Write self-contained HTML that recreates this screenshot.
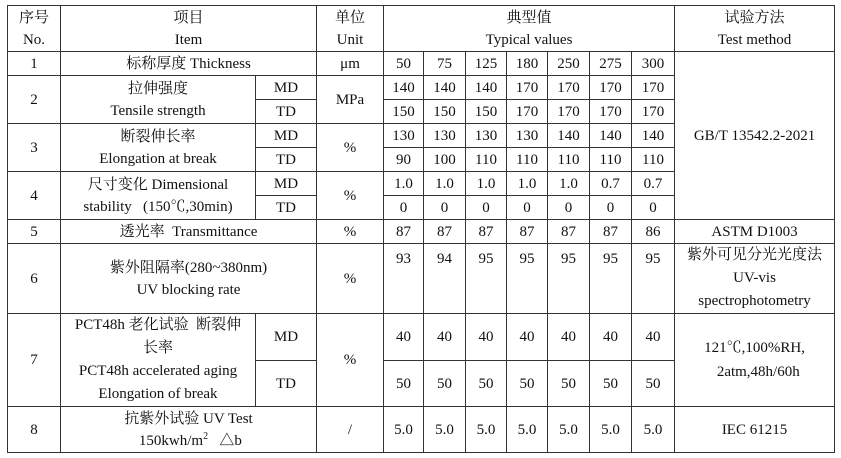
<!DOCTYPE html>
<html><head><meta charset="utf-8"><style>
html,body{margin:0;padding:0;background:#fff;width:841px;height:458px;overflow:hidden}
table{position:absolute;left:7px;top:5px;border-collapse:collapse;table-layout:fixed;width:828px;
font-family:"Liberation Serif","Noto Serif CJK SC",serif;font-size:15px;color:#111}
td{border:1px solid #333;padding:0;text-align:center;vertical-align:middle;line-height:22px;overflow:hidden;white-space:nowrap}
</style></head><body>
<table>
<colgroup><col style="width:53px"><col style="width:195px"><col style="width:61px"><col style="width:67px">
<col style="width:40px"><col style="width:42px"><col style="width:41px"><col style="width:41px"><col style="width:42px"><col style="width:42px"><col style="width:43px"><col style="width:160px"></colgroup>
<tr style="height:46px"><td>序号<br>No.</td><td colspan="2">项目<br>Item</td><td>单位<br>Unit</td><td colspan="7">典型值<br>Typical values</td><td>试验方法<br>Test method</td></tr>
<tr style="height:24px"><td>1</td><td colspan="2">标称厚度 Thickness</td><td>μm</td><td>50</td><td>75</td><td>125</td><td>180</td><td>250</td><td>275</td><td>300</td><td rowspan="7">GB/T 13542.2-2021</td></tr>
<tr style="height:24px"><td rowspan="2">2</td><td rowspan="2">拉伸强度<br>Tensile strength</td><td>MD</td><td rowspan="2">MPa</td><td>140</td><td>140</td><td>140</td><td>170</td><td>170</td><td>170</td><td>170</td></tr>
<tr style="height:24px"><td>TD</td><td>150</td><td>150</td><td>150</td><td>170</td><td>170</td><td>170</td><td>170</td></tr>
<tr style="height:24px"><td rowspan="2">3</td><td rowspan="2">断裂伸长率<br>Elongation at break</td><td>MD</td><td rowspan="2">%</td><td>130</td><td>130</td><td>130</td><td>130</td><td>140</td><td>140</td><td>140</td></tr>
<tr style="height:24px"><td>TD</td><td>90</td><td>100</td><td>110</td><td>110</td><td>110</td><td>110</td><td>110</td></tr>
<tr style="height:24px"><td rowspan="2">4</td><td rowspan="2">尺寸变化 Dimensional<br>stability &nbsp;&nbsp;(150℃,30min)</td><td>MD</td><td rowspan="2">%</td><td>1.0</td><td>1.0</td><td>1.0</td><td>1.0</td><td>1.0</td><td>0.7</td><td>0.7</td></tr>
<tr style="height:24px"><td>TD</td><td>0</td><td>0</td><td>0</td><td>0</td><td>0</td><td>0</td><td>0</td></tr>
<tr style="height:24px"><td>5</td><td colspan="2">透光率 &nbsp;Transmittance</td><td>%</td><td>87</td><td>87</td><td>87</td><td>87</td><td>87</td><td>87</td><td>86</td><td>ASTM D1003</td></tr>
<tr style="height:69px"><td>6</td><td colspan="2">紫外阻隔率(280~380nm)<br>UV blocking rate</td><td>%</td><td style="vertical-align:top;padding-top:4px">93</td><td style="vertical-align:top;padding-top:4px">94</td><td style="vertical-align:top;padding-top:4px">95</td><td style="vertical-align:top;padding-top:4px">95</td><td style="vertical-align:top;padding-top:4px">95</td><td style="vertical-align:top;padding-top:4px">95</td><td style="vertical-align:top;padding-top:4px">95</td><td style="line-height:23px">紫外可见分光光度法<br>UV-vis<br>spectrophotometry</td></tr>
<tr style="height:47px"><td rowspan="2">7</td><td rowspan="2" style="line-height:23px">PCT48h 老化试验 &nbsp;断裂伸<br>长率<br>PCT48h accelerated aging<br>Elongation of break</td><td>MD</td><td rowspan="2">%</td><td>40</td><td>40</td><td>40</td><td>40</td><td>40</td><td>40</td><td>40</td><td rowspan="2" style="line-height:24px">121℃,100%RH,<br>&nbsp;&nbsp;2atm,48h/60h</td></tr>
<tr style="height:46px"><td>TD</td><td>50</td><td>50</td><td>50</td><td>50</td><td>50</td><td>50</td><td>50</td></tr>
<tr style="height:46px"><td>8</td><td colspan="2">抗紫外试验 UV Test<br>&nbsp;150kwh/m<sup style="font-size:10px;line-height:0">2</sup> &nbsp;&nbsp;△b</td><td>/</td><td>5.0</td><td>5.0</td><td>5.0</td><td>5.0</td><td>5.0</td><td>5.0</td><td>5.0</td><td>IEC 61215</td></tr>
</table>
</body></html>
